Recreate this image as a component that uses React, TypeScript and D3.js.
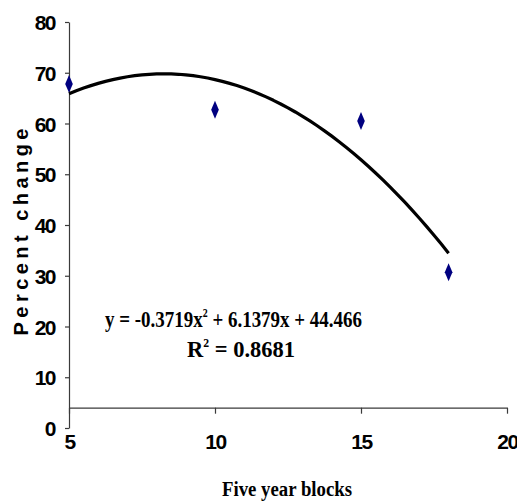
import React, { useEffect, useRef } from 'react'
import * as d3 from 'd3'

// observed points (five year block, percent change)
const blocks = [5, 10, 15, 18]
const percentChange = [67.8, 62.7, 60.5, 30.7]

// trendline coefficients as printed on the chart: a*x^2 + b*x + c
const trendCoef = [-0.3719, 6.1379, 44.466]
const rSquared = '0.8681'

const xTicks = [5, 10, 15, 20]
const yTicks = [0, 10, 20, 30, 40, 50, 60, 70, 80]

const W = 517
const H = 503

export default function App() {
  const xAxisRef = useRef<SVGGElement>(null)
  const yAxisRef = useRef<SVGGElement>(null)

  const x = d3.scaleLinear().domain([5, 20]).range([69, 507])
  const y = d3.scaleLinear().domain([0, 80]).range([428, 22])
  // the horizontal axis crosses a little above zero in the original
  const xCross = 4

  useEffect(() => {
    const xa = d3.axisBottom(x).tickValues(xTicks).tickSize(6).tickSizeOuter(0).tickPadding(20)
    const ya = d3.axisLeft(y).tickValues(yTicks).tickSize(4).tickSizeOuter(0).tickPadding(10)
    const gx = d3.select(xAxisRef.current).call(xa)
    const gy = d3.select(yAxisRef.current).call(ya)
    ;[gx, gy].forEach(g => {
      g.selectAll('path, line').attr('stroke', '#3a3a3a').attr('stroke-width', 1.2)
      g.selectAll('text')
        .attr('fill', '#000')
        .style('font-family', '"Liberation Sans", Arial, sans-serif')
        .style('font-weight', 'bold')
        .style('font-size', '21px')
        .style('letter-spacing', '-1.5px')
    })
    gy.selectAll('text').attr('dy', '0.36em')
  }, [])

  const samples = d3.range(blocks[0], blocks[blocks.length - 1] + 0.001, 0.25)
  const fit = (v: number) => trendCoef[0] * v * v + trendCoef[1] * v + trendCoef[2]
  const line = d3.line<number>().x(d => x(d)).y(d => y(fit(d)))

  const diamond = d3.symbol().type(d3.symbolDiamond).size(70)

  return (
    <svg width={W} height={H} style={{ position: 'absolute', left: 0, top: 0, background: '#fff' }}>
      <g ref={yAxisRef} transform={`translate(${x(5)}, 0)`} />
      <g ref={xAxisRef} transform={`translate(0, ${y(xCross)})`} />

      <path d={line(samples) || ''} fill="none" stroke="#000" strokeWidth={3.2} strokeLinejoin="round" />

      {blocks.map((b, i) => (
        <path key={i} d={diamond() || ''} transform={`translate(${x(b)}, ${y(percentChange[i])}) scale(0.85, 1.15)`} fill="#000080" />
      ))}

      <text x={105} y={327} textLength={257} lengthAdjust="spacingAndGlyphs"
        style={{ fontFamily: '"Liberation Serif", "Times New Roman", serif', fontWeight: 'bold', fontSize: 23 }}>
        {`y = ${trendCoef[0]}x`}
        <tspan dy={-10} fontSize={12}>2</tspan>
        <tspan dy={10}>{` + ${trendCoef[1]}x + ${trendCoef[2]}`}</tspan>
      </text>
      <text x={187} y={357} textLength={108} lengthAdjust="spacingAndGlyphs"
        style={{ fontFamily: '"Liberation Serif", "Times New Roman", serif', fontWeight: 'bold', fontSize: 23 }}>
        R<tspan dy={-10} fontSize={12}>2</tspan>
        <tspan dy={10}>{` = ${rSquared}`}</tspan>
      </text>

      <text transform="translate(28, 232) rotate(-90)" textAnchor="middle" textLength={207} lengthAdjust="spacing"
        style={{ fontFamily: '"Liberation Sans", Arial, sans-serif', fontWeight: 'bold', fontSize: 20 }}>
        Percent change
      </text>

      <text x={287} y={496} textAnchor="middle" textLength={130} lengthAdjust="spacingAndGlyphs"
        style={{ fontFamily: '"Liberation Serif", "Times New Roman", serif', fontWeight: 'bold', fontSize: 20 }}>
        Five year blocks
      </text>
    </svg>
  )
}
